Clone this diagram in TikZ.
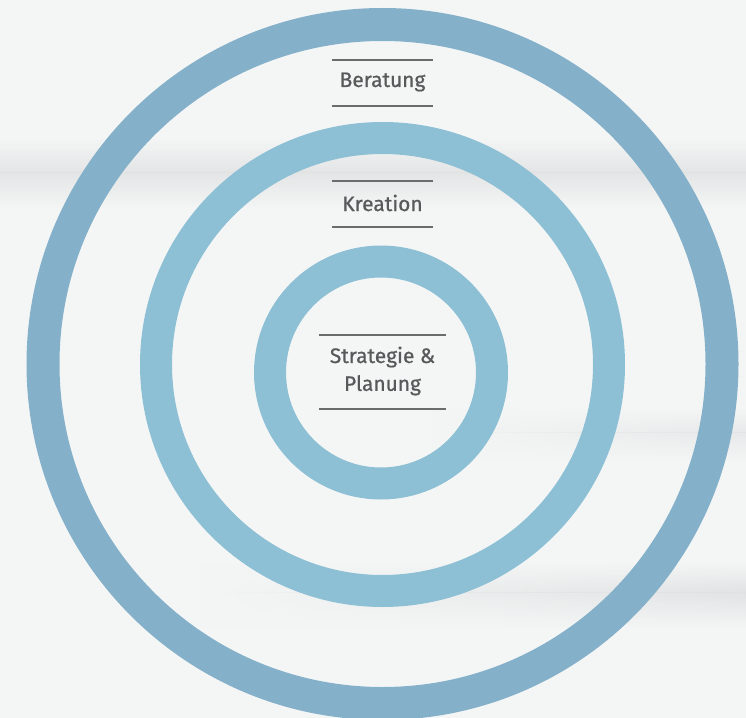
\documentclass[tikz,border=0pt]{standalone}
\usepackage{fontspec}
\setmainfont{Fira Sans}
\newfontfamily\labfont{Fira Sans}[FakeBold=0.7]
\usetikzlibrary{fadings}
\tikzfading[name=fadeleft, left color=transparent!100, right color=transparent!0]
\definecolor{bgc}{HTML}{F4F6F6}
\definecolor{bandc}{HTML}{DFE1E2}
\definecolor{outerring}{HTML}{84B1C9}
\definecolor{innerring}{HTML}{8DC0D5}
\definecolor{txtc}{HTML}{58595A}
\definecolor{rulec}{HTML}{6A6C6D}
\tikzset{
  ringA/.style={draw=outerring, line width=33bp},
  ringB/.style={draw=innerring, line width=32bp},
  label/.style={font=\labfont\fontsize{21}{28}\selectfont, text=txtc, align=center, inner sep=0pt},
  rulerline/.style={draw=rulec, line width=1.1bp}
}
\begin{document}
\begin{tikzpicture}[x=1bp, y=-1bp]
\useasboundingbox (0,0) rectangle (746,718);
\fill[bgc] (0,0) rectangle (746,718);
% soft background streaks
\shade[top color=bgc, bottom color=bandc, opacity=0.8] (0,138) rectangle (746,172);
\shade[top color=bandc, bottom color=bgc, opacity=0.8] (0,172) rectangle (746,208);
\shade[top color=bgc, bottom color=bandc, opacity=0.6, path fading=fadeleft] (430,408) rectangle (746,432);
\shade[top color=bandc, bottom color=bgc, opacity=0.6, path fading=fadeleft] (430,432) rectangle (746,462);
\shade[top color=bgc, bottom color=bandc, opacity=0.9, path fading=fadeleft] (200,562) rectangle (746,592);
\shade[top color=bandc, bottom color=bgc, opacity=0.9, path fading=fadeleft] (200,592) rectangle (746,628);
% rings
\draw[ringA] (382.5,364) circle[radius=339.5];
\draw[ringB] (382.5,364.5) circle[radius=226.5];
\draw[ringB] (381,372.5) circle[radius=111];
% labels
\node[label] (beratung) at (382.5,82) {Beratung};
\node[label] (kreation) at (382.5,203) {Kreation};
\node[label] (strategie) at (382.5,371) {Strategie \&\\Planung};
% rules
\coordinate (b1l) at (332,60);  \coordinate (b1r) at (433,60);
\coordinate (b2l) at (332,106); \coordinate (b2r) at (433,106);
\coordinate (k1l) at (332,181); \coordinate (k1r) at (433,181);
\coordinate (k2l) at (332,227); \coordinate (k2r) at (433,227);
\coordinate (s1l) at (319,335); \coordinate (s1r) at (446,335);
\coordinate (s2l) at (319,409); \coordinate (s2r) at (446,409);
\draw[rulerline] (b1l) -- (b1r);
\draw[rulerline] (b2l) -- (b2r);
\draw[rulerline] (k1l) -- (k1r);
\draw[rulerline] (k2l) -- (k2r);
\draw[rulerline] (s1l) -- (s1r);
\draw[rulerline] (s2l) -- (s2r);
\end{tikzpicture}
\end{document}
